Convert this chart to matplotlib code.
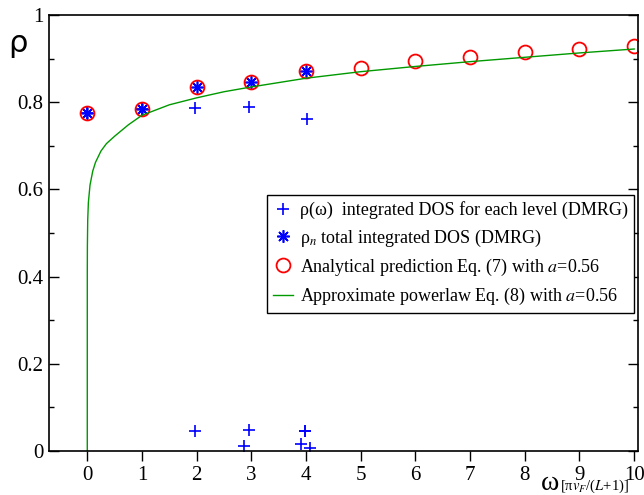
import numpy as np
import matplotlib
matplotlib.use("Agg")
import matplotlib.pyplot as plt
from matplotlib.ticker import MultipleLocator

plt.rcParams['font.family'] = ['Liberation Serif', 'DejaVu Serif']
plt.rcParams['mathtext.fontset'] = 'stix'

# rho(omega) for each level (DMRG)
level_w = [0, 1, 1.97, 2.95, 4.02, 1.97, 2.96, 2.86, 3.90, 3.99, 3.99, 4.07]
level_rho = [0.775, 0.784, 0.787, 0.789, 0.761, 0.047, 0.048, 0.011, 0.015, 0.047, 0.045, 0.006]

# rho_n total integrated DOS (DMRG)
total_w = [0, 1, 2, 3, 4]
total_rho = [0.775, 0.784, 0.834, 0.847, 0.872]

# analytical prediction Eq. (7)
pred_w = [0, 1, 2, 3, 4, 5, 6, 7, 8, 9, 10]
pred_rho = [0.775, 0.784, 0.834, 0.847, 0.872, 0.878, 0.894, 0.904, 0.915, 0.921, 0.930]

# approximate powerlaw Eq. (8)
fit_w = [0, 0.0003, 0.002, 0.008, 0.02, 0.05, 0.1, 0.15, 0.25, 0.35, 0.5, 0.75,
         1.0, 1.5, 2.0, 2.5, 3.0, 4.0, 5.0, 6.0, 7.0, 8.0, 9.0, 10.0]
fit_rho = [0.0, 0.41, 0.47, 0.53, 0.57, 0.61, 0.642, 0.662, 0.688, 0.705, 0.722, 0.748,
           0.77, 0.794, 0.81, 0.824, 0.835, 0.855, 0.87, 0.882, 0.893, 0.903, 0.913, 0.922]

fig = plt.figure(figsize=(6.44, 4.95), dpi=100)
ax = fig.add_axes([49/644, 1-451/495, 589/644, 436/495])

ax.plot(level_w, level_rho, ls='none', marker='+', ms=8, mew=1.2, color='blue',
        label=u'\u03c1(\u03c9)  integrated DOS for each level (DMRG)')
ax.plot(total_w, total_rho, ls='none', marker=(8, 2, 0), ms=9, mew=1.2, color='blue',
        label=u'\u03c1$_n$ total integrated DOS (DMRG)')
ax.plot(pred_w, pred_rho, ls='none', marker='o', ms=10, mew=1.3, mfc='none', mec='red',
        label='Analytical prediction Eq. (7) with $a$=0.56')
ax.plot(fit_w, fit_rho, color=(0.0, 0.6, 0.0), lw=1.0,
        label='Approximate powerlaw Eq. (8) with $a$=0.56')

ax.set_xlim(-0.7, 10.07)
ax.set_ylim(0, 1)
ax.set_xticks(range(0, 11))
ax.set_yticks([0, 0.2, 0.4, 0.6, 0.8, 1.0])
ax.set_yticklabels(['0', '0.2', '0.4', '0.6', '0.8', '1'])
ax.yaxis.set_minor_locator(MultipleLocator(0.1))
ax.tick_params(axis='x', direction='out', length=7, width=1, labelsize=15, pad=4, top=False)
ax.tick_params(axis='y', which='major', direction='in', length=7, width=1, labelsize=15,
               pad=4, right=True)
ax.tick_params(axis='y', which='minor', direction='in', length=3.6, width=1, right=True)
for s in ax.spines.values():
    s.set_linewidth(1.2)

fig.text(18/644, 1-44/495, u'\u03c1', fontsize=22, family='DejaVu Sans',
         ha='center', va='center')
fig.text(550/644, 1-483/495, u'\u03c9', fontsize=20,
         ha='center', va='center')
fig.text(560/644, 1-486/495, u'[\u03c0$v_F$/($L$+1)]', fontsize=10.5,
         ha='left', va='center')

leg = ax.legend(loc='upper right', bbox_to_anchor=(0.994, 0.587), fontsize=13,
                frameon=True, fancybox=False, edgecolor='black', framealpha=1,
                borderaxespad=0, borderpad=0.35, handlelength=1.1, handletextpad=0.4,
                labelspacing=0.45, numpoints=1)
leg.get_frame().set_linewidth(1.0)

fig.savefig('out.png', dpi=100)
